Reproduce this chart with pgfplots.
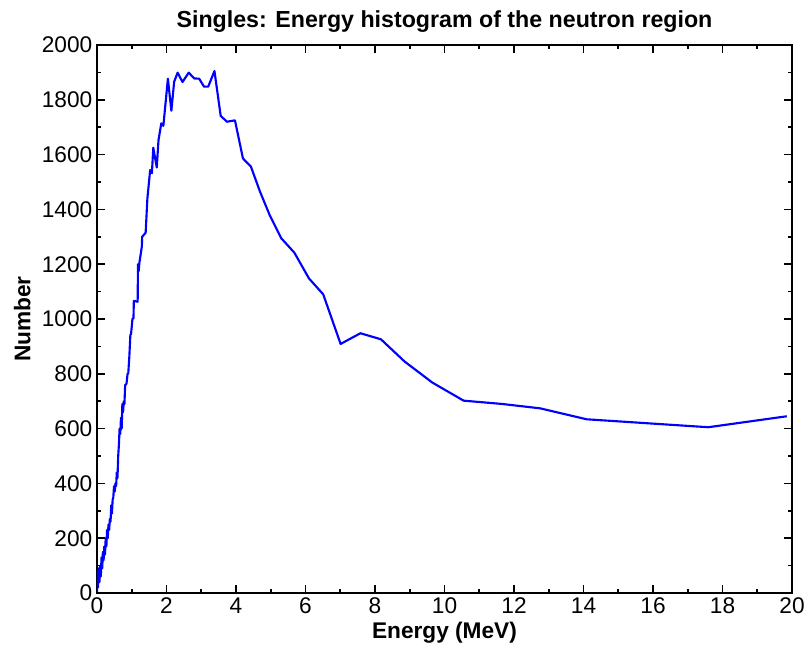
\documentclass[border=0pt]{standalone}
\usepackage{pgfplots}
\pgfplotsset{compat=1.18}
\usepackage{fontspec}
\setmainfont{Liberation Sans}
\begin{document}
\begin{tikzpicture}
\begin{axis}[name=ax,
  width=521.25pt, height=411pt, scale only axis,
  xmin=0, xmax=20, ymin=0, ymax=2000,
  xtick distance=2, ytick distance=200,
  minor x tick num=1, minor y tick num=1,
  tick align=inside, major tick length=6pt, minor tick length=3pt,
  axis line style={line width=1.4pt},
  every tick/.style={black, line width=1.2pt},
  tick label style={font=\fontsize{17}{20}\selectfont},
  /pgf/number format/assume math mode=true,
  /pgf/number format/1000 sep={},
  xlabel={\textbf{Energy (MeV)}},
  ylabel={\textbf{Number}},
  title={\textbf{Singles: Energy histogram of the neutron region}},
  label style={font=\fontsize{17}{20}\selectfont},
  title style={font=\fontsize{17.4}{20}\selectfont, at={(axis description cs:0.5,1)}, anchor=center, yshift=11.5pt},
  xlabel style={at={(axis description cs:0.5,0)}, anchor=center, yshift=-30pt},
  ylabel style={at={(axis description cs:0,0.5)}, anchor=center, yshift=56pt},
]
\addplot[blue, line width=1.6pt, line join=round] coordinates {
(0.00,5) (0.01,80) (0.03,20) (0.05,90) (0.07,40) (0.09,100) (0.11,60)
(0.13,130) (0.15,90) (0.17,150) (0.19,120) (0.21,170) (0.23,140)
(0.25,200) (0.27,170) (0.29,230) (0.31,200) (0.33,250) (0.35,230)
(0.37,270) (0.39,260) (0.41,320) (0.43,290) (0.45,340) (0.47,350)
(0.49,390) (0.51,370) (0.53,400) (0.55,390) (0.57,440) (0.59,420)
(0.61,500) (0.63,540) (0.65,600) (0.67,580) (0.69,640) (0.71,600)
(0.73,690) (0.75,660) (0.77,700) (0.79,690) (0.81,760) (0.83,760)
(0.85,765) (0.88,800) (0.90,802) (0.93,862) (0.96,942) (0.98,945)
(1.02,1000) (1.05,1003) (1.06,1066) (1.17,1063) (1.18,1200) (1.20,1175)
(1.22,1205) (1.29,1264) (1.30,1300) (1.40,1315) (1.45,1440) (1.53,1544)
(1.58,1532) (1.62,1625) (1.72,1553) (1.77,1653) (1.85,1714) (1.91,1705)
(2.04,1877) (2.14,1760) (2.22,1866) (2.32,1899) (2.46,1865) (2.64,1899)
(2.80,1878) (2.94,1877) (3.08,1848) (3.20,1848) (3.38,1905) (3.56,1741)
(3.74,1720) (3.97,1725) (4.20,1586) (4.43,1556) (4.69,1465) (4.98,1376)
(5.30,1295) (5.68,1242) (6.10,1148) (6.51,1090) (7.01,909) (7.58,948)
(8.17,926) (8.85,845) (9.65,768) (10.55,702) (11.65,690) (12.75,674)
(14.09,634) (17.59,605) (19.85,645)
};
\end{axis}
\pgfresetboundingbox
\path[use as bounding box] ([shift={(-72.75pt,-45pt)}]ax.south west) rectangle ([shift={(531.75pt,444.75pt)}]ax.south west);
\end{tikzpicture}
\end{document}
